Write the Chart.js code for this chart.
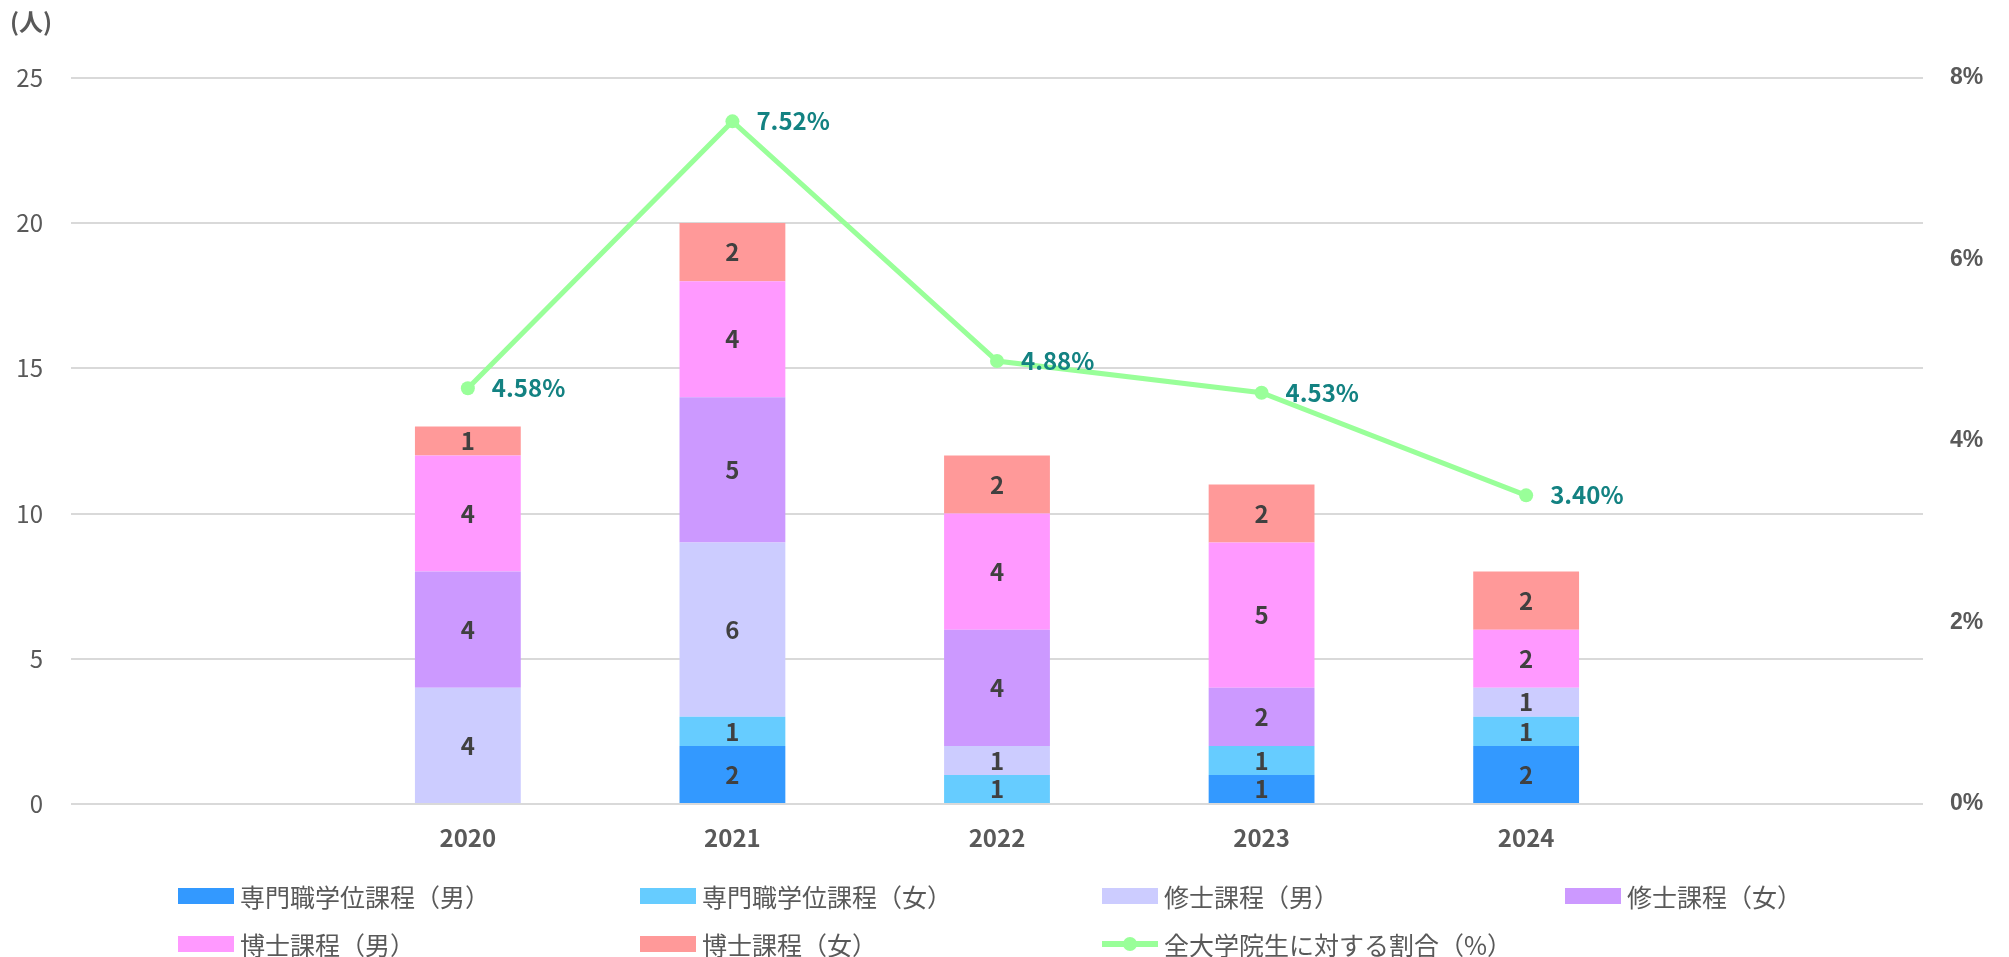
<!DOCTYPE html>
<html lang="ja">
<head>
<meta charset="utf-8">
<script src="https://cdn.jsdelivr.net/npm/chart.js@4"></script>
<style>
  html, body { margin: 0; padding: 0; background: #fff; overflow: hidden; }
  #wrap { position: relative; width: 2009px; height: 957px; }
  #chart { display: block; }
  #legend { position: absolute; left: 0; top: 0; width: 2009px; height: 957px; pointer-events: none;
    font-family: "Noto Sans CJK JP", "Noto Sans", sans-serif; font-size: 25px; line-height: 1; color: #595959; }
  .item { position: absolute; display: flex; align-items: center; white-space: nowrap; height: 28px; }
  .box { width: 56px; height: 16px; margin-right: 6px; }
  .lineMark { position: relative; width: 56px; height: 16px; margin-right: 6px; }
  .lineMark .bar { position: absolute; left: 0; right: 0; top: 5px; height: 6px; }
  .lineMark .dot { position: absolute; left: 21px; top: 1px; width: 14px; height: 14px; border-radius: 50%; }
</style>
</head>
<body>
<div id="wrap">
  <canvas id="chart" width="2009" height="957"></canvas>
  <div id="legend"></div>
</div>
<script>
// data
const years = ["", "2020", "2021", "2022", "2023", "2024", ""];
const profMale   = [null, 0, 2, 0, 1, 2, null];
const profFemale = [null, 0, 1, 1, 1, 1, null];
const mastMale   = [null, 4, 6, 1, 0, 1, null];
const mastFemale = [null, 4, 5, 4, 2, 0, null];
const docMale    = [null, 4, 4, 4, 5, 2, null];
const docFemale  = [null, 1, 2, 2, 2, 2, null];
const ratio      = [null, 4.58, 7.52, 4.88, 4.53, 3.40, null];
const leftTicks = [0, 5, 10, 15, 20, 25];
const rightTicks = [0, 2, 4, 6, 8];

const jpFont = '"Noto Sans CJK JP", "Noto Sans", sans-serif';
const gray = "#595959";

function barSet(label, data, color) {
  return {
    type: "bar", label: label, data: data, backgroundColor: color,
    stack: "s", yAxisID: "y", order: 1,
    barPercentage: 0.4, categoryPercentage: 1
  };
}

const datasets = [
  barSet("専門職学位課程（男）", profMale, "#3399FF"),
  barSet("専門職学位課程（女）", profFemale, "#66CCFF"),
  barSet("修士課程（男）", mastMale, "#CCCCFF"),
  barSet("修士課程（女）", mastFemale, "#CC99FF"),
  barSet("博士課程（男）", docMale, "#FF99FF"),
  barSet("博士課程（女）", docFemale, "#FF9999"),
  {
    type: "line", label: "全大学院生に対する割合（%）", data: ratio, yAxisID: "y1", order: 0,
    borderColor: "#99FF99", backgroundColor: "#99FF99", borderWidth: 5,
    pointRadius: 7, pointBackgroundColor: "#99FF99", pointBorderWidth: 0, tension: 0
  }
];

// value labels inside bars and next to line points
const valueLabels = {
  id: "valueLabels",
  afterDatasetsDraw(chart) {
    const ctx = chart.ctx;
    ctx.save();
    chart.data.datasets.forEach((ds, i) => {
      const meta = chart.getDatasetMeta(i);
      meta.data.forEach((el, j) => {
        const v = ds.data[j];
        if (v === null || v === 0) return;
        if (ds.type === "bar") {
          ctx.font = "bold 24px " + jpFont;
          ctx.fillStyle = "#404040";
          ctx.textAlign = "center";
          ctx.textBaseline = "middle";
          ctx.fillText(String(v), el.x, (el.y + el.base) / 2);
        } else {
          ctx.font = "bold 24px " + jpFont;
          ctx.fillStyle = "#138282";
          ctx.textAlign = "left";
          ctx.textBaseline = "middle";
          ctx.fillText(v.toFixed(2) + "%", el.x + 24, el.y);
        }
      });
    });
    ctx.restore();
  }
};

const chart = new Chart(document.getElementById("chart"), {
  data: { labels: years, datasets: datasets },
  plugins: [valueLabels],
  options: {
    responsive: false,
    animation: false,
    layout: { padding: { left: 10, right: 0, top: 0, bottom: 110 } },
    plugins: {
      legend: { display: false },
      tooltip: { enabled: false },
      title: {
        display: true, text: "(人)", align: "start", color: gray,
        font: { family: jpFont, size: 24, weight: "bold" },
        padding: { top: 7, bottom: 42 }
      }
    },
    scales: {
      x: {
        stacked: true,
        grid: { display: false, drawTicks: false },
        border: { display: false },
        ticks: { color: gray, font: { family: jpFont, size: 24, weight: "bold" }, padding: 19 },
        afterFit(s) { s.height = 43; }
      },
      y: {
        stacked: true, position: "left", min: 0, max: 25,
        grid: { color: "#D9D9D9", lineWidth: 2, drawTicks: false },
        border: { display: false },
        afterBuildTicks(s) { s.ticks = leftTicks.map(v => ({ value: v })); },
        ticks: { color: gray, font: { family: jpFont, size: 24 }, padding: 28 },
        afterFit(s) { s.width = 61; }
      },
      y1: {
        position: "right", min: 0, max: 8,
        grid: { display: false, drawTicks: false },
        border: { display: false },
        afterBuildTicks(s) { s.ticks = rightTicks.map(v => ({ value: v })); },
        ticks: { color: gray, font: { family: "Liberation Sans", size: 23, weight: "bold" }, padding: 27,
          callback: v => v + "%" },
        afterFit(s) { s.width = 86; }
      }
    }
  }
});

// legend in a 4-column grid, built from the datasets
const legend = document.getElementById("legend");
const colX = [178, 640, 1102, 1565];
const rowY = [896, 944];
chart.data.datasets.forEach((ds, i) => {
  const item = document.createElement("div");
  item.className = "item";
  item.style.left = colX[i % 4] + "px";
  item.style.top = (rowY[Math.floor(i / 4)] - 14) + "px";
  let mark;
  if (ds.type === "line") {
    mark = document.createElement("div");
    mark.className = "lineMark";
    const b = document.createElement("div"); b.className = "bar"; b.style.background = ds.borderColor;
    const d = document.createElement("div"); d.className = "dot"; d.style.background = ds.borderColor;
    mark.appendChild(b); mark.appendChild(d);
  } else {
    mark = document.createElement("div");
    mark.className = "box";
    mark.style.background = ds.backgroundColor;
  }
  const txt = document.createElement("span");
  txt.textContent = ds.label;
  item.appendChild(mark);
  item.appendChild(txt);
  legend.appendChild(item);
});
</script>
</body>
</html>
